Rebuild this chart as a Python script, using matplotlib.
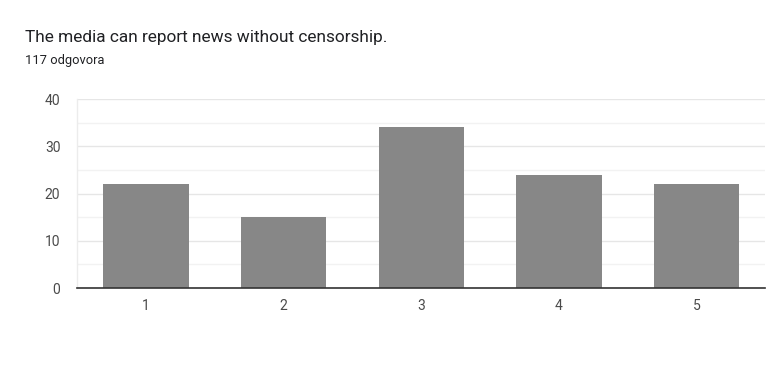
import matplotlib.pyplot as plt

categories = ['1', '2', '3', '4', '5']
counts = [22, 15, 34, 24, 22]
title = 'The media can report news without censorship.'
subtitle = '117 odgovora'

plt.rcParams['font.family'] = ['Roboto', 'DejaVu Sans']

fig = plt.figure(figsize=(7.68, 3.66), dpi=100)
ax = fig.add_axes([0.1003, 0.2131, 0.8964, 0.5164])

x = range(len(categories))
ax.bar(x, counts, width=0.62, color='#878787', zorder=3)

ax.set_xlim(-0.5, len(categories) - 0.5)
ax.set_ylim(0, 40)
ax.set_xticks(list(x))
ax.set_xticklabels(categories)
ax.set_yticks([0, 10, 20, 30, 40])
ax.set_yticks([5, 15, 25, 35], minor=True)

ax.grid(axis='y', which='major', color='#e6e6e6', linewidth=1, zorder=0)
ax.grid(axis='y', which='minor', color='#f2f2f2', linewidth=1, zorder=0)

for side in ['top', 'right']:
    ax.spines[side].set_visible(False)
ax.spines['left'].set_color('#ececec')
ax.spines['left'].set_linewidth(1)
ax.spines['bottom'].set_color('#333333')
ax.spines['bottom'].set_linewidth(1.2)
ax.spines['bottom'].set_zorder(4)

ax.tick_params(axis='both', which='both', length=0, labelsize=10, labelcolor='#4a4a4a')
ax.tick_params(axis='x', pad=8)
ax.tick_params(axis='y', pad=12)

fig.text(0.033, 0.885, title, fontsize=12.4, color='#202124')
fig.text(0.033, 0.826, subtitle, fontsize=9.3, color='#202124')

fig.savefig('out.png', dpi=100, facecolor='white')
